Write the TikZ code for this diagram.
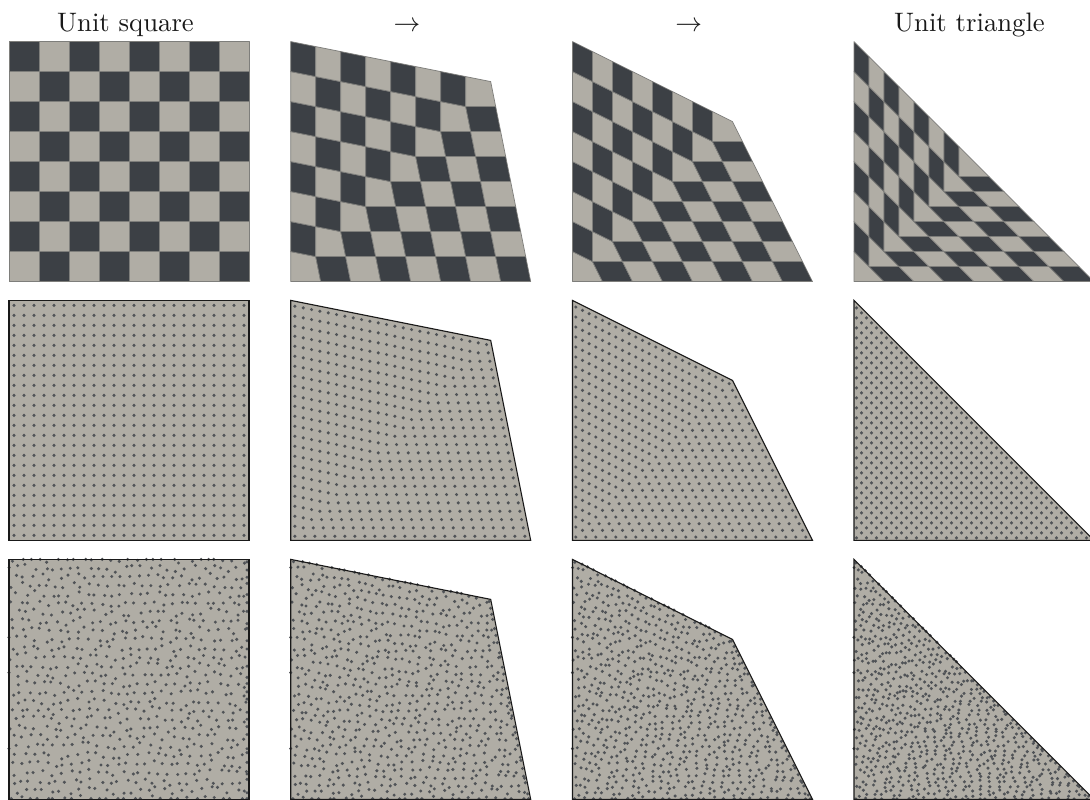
\documentclass[tikz,border=0pt]{standalone}
\definecolor{celldark}{HTML}{3C4045}
\definecolor{celllight}{HTML}{B0ADA5}
\definecolor{celledge}{HTML}{7E7E7B}
\definecolor{dotcol}{HTML}{505357}
\newcommand\mapxy[3]{% u,v,p -> \mX,\mY panel coordinates
  \pgfmathsetmacro\mX{(#2<=#1)?(#1+#2*(#3-1)):(#1*#3)}%
  \pgfmathsetmacro\mY{(#2<=#1)?(#2*#3):(#2+#1*(#3-1))}%
}
% checkerboard panel: x0, y-bottom, p
\newcommand\panelchecker[3]{%
  \begin{scope}[shift={(#1,#2)}]
  \foreach \i in {0,...,7}{\foreach \j in {0,...,7}{%
    \pgfmathsetmacro\ua{\i*30}\pgfmathsetmacro\ub{(\i+1)*30}%
    \pgfmathsetmacro\va{\j*30}\pgfmathsetmacro\vb{(\j+1)*30}%
    \mapxy{\ua}{\va}{#3}\let\xa\mX\let\ya\mY
    \mapxy{\ub}{\va}{#3}\let\xb\mX\let\yb\mY
    \mapxy{\ub}{\vb}{#3}\let\xc\mX\let\yc\mY
    \mapxy{\ua}{\vb}{#3}\let\xd\mX\let\yd\mY
    \pgfmathtruncatemacro\parity{mod(\i+\j,2)}%
    \ifnum\parity=0\def\cc{celllight}\else\def\cc{celldark}\fi
    \filldraw[cellbox,fill=\cc] (\xa,\ya)--(\xb,\yb)--(\xc,\yc)--(\xd,\yd)--cycle;
  }}
  \end{scope}}
\newcommand\panelbase[3]{%
  \begin{scope}[shift={(#1,#2)}]
  \pgfmathsetmacro\qq{240*#3}%
  \fill[celllight] (0,0)--(240,0)--(\qq,\qq)--(0,240)--cycle;
  \end{scope}}
\newcommand\panelframe[3]{%
  \begin{scope}[shift={(#1,#2)}]
  \pgfmathsetmacro\qq{240*#3}%
  \draw[panelline] (0,0)--(240,0)--(\qq,\qq)--(0,240)--cycle;
  \end{scope}}
% regular points
\newcommand\panelgrid[3]{%
  \panelbase{#1}{#2}{#3}%
  \begin{scope}[shift={(#1,#2)}]
  \foreach \i in {0,...,23}{\foreach \j in {0,...,23}{%
    \pgfmathsetmacro\ua{5+\i*10}\pgfmathsetmacro\va{5+\j*10}%
    \mapxy{\ua}{\va}{#3}%
    \fill[dotcol] (\mX,\mY) circle[radius=1.7pt];
  }}
  \end{scope}
  \panelframe{#1}{#2}{#3}}
% irregular points: same set in each panel
\newcommand\panelrandom[3]{%
  \panelbase{#1}{#2}{#3}%
  \pgfmathsetseed{1234}%
  \begin{scope}[shift={(#1,#2)}]
  \foreach \i in {0,...,27}{\foreach \j in {0,...,27}{%
    \pgfmathsetmacro\jx{rand}\pgfmathsetmacro\jy{rand}%
    \pgfmathsetmacro\ua{max(0,min(238,2+\i*8.8+4.4*mod(\j,2)+2.8*\jx+1.5*sin(\j*37)))}%
    \pgfmathsetmacro\va{max(0.8,min(240,\j*8.9+2.8*\jy+1.5*sin(\i*53)))}%
    \mapxy{\ua}{\va}{#3}%
    \fill[dotcol] (\mX,\mY) circle[radius=1.7pt];
  }}
  \end{scope}
  \panelframe{#1}{#2}{#3}}
\tikzset{
  cellbox/.style={draw=celledge,line width=0.7pt,line join=round},
  panelline/.style={draw=black!90,line width=1.1pt,line join=miter},
  headlabel/.style={anchor=base,scale=2.67,inner sep=0pt,text=black!90}
}
\begin{document}
\begin{tikzpicture}[x=1pt,y=1pt]
\useasboundingbox (0,0) rectangle (1090,800);
\clip (0,0) rectangle (1090,800);
\node[headlabel] (t1) at (125.5,768) {Unit square};
\node[headlabel] (t2) at (407,768) {$\to$};
\node[headlabel] (t3) at (688.7,768) {$\to$};
\node[headlabel] (t4) at (969.5,768) {Unit triangle};
% columns x: 9, 290.7, 572.5, 854; rows bottom y: 518.5, 259.5, 0.5
\panelchecker{9}{518.4}{1}
\panelchecker{290.7}{518.4}{0.83333}
\panelchecker{572.5}{518.4}{0.66667}
\panelchecker{854}{518.4}{0.5}
\panelgrid{9}{259.6}{1}
\panelgrid{290.7}{259.6}{0.83333}
\panelgrid{572.5}{259.6}{0.66667}
\panelgrid{854}{259.6}{0.5}
\panelrandom{9}{0.6}{1}
\panelrandom{290.7}{0.6}{0.83333}
\panelrandom{572.5}{0.6}{0.66667}
\panelrandom{854}{0.6}{0.5}
\end{tikzpicture}
\end{document}
